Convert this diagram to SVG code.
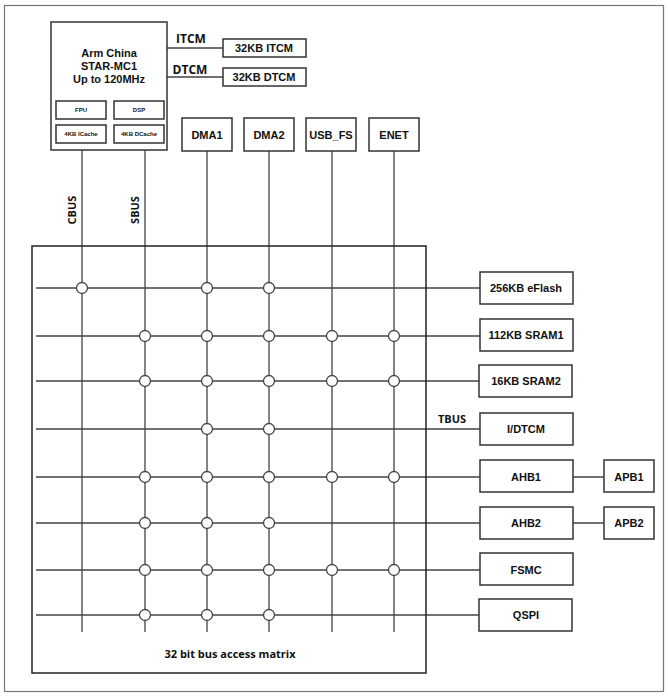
<svg xmlns="http://www.w3.org/2000/svg" width="668" height="697" viewBox="0 0 668 697">
<style>
.b{fill:#fff;stroke:#333;stroke-width:1.5}
.l{stroke:#444;stroke-width:1.3;fill:none}
.c{fill:#fff;stroke:#444;stroke-width:1.3}
text{font-family:"Liberation Sans",Arial,sans-serif;font-weight:bold;fill:#111;text-anchor:middle}
.t{font-size:11px}
.s{font-size:6px}
.m{font-size:12px}
</style>
<rect x="4.5" y="5.5" width="659" height="686" fill="#fff" stroke="#777" stroke-width="1.2"/>
<g id="connectors">
<path class="l" d="M167 48H223M167 77H223"/>
<path class="l" d="M82 150V632M145 150V632M207 151V632M269 151V632M332 151V632M394 151V632"/>
<path class="l" d="M36 288H480M36 336H480M36 381H480M36 429H480M36 477H480M36 523H480M36 570H480M36 615H480"/>
<path class="l" d="M573 477H604M573 523H604"/>
</g>
<g id="matrix"><rect x="32" y="246" width="394" height="427" fill="none" stroke="#222" stroke-width="1.5"/>
<text x="230" y="658" font-family="'Open Sans',sans-serif" style="font-family:'Open Sans',sans-serif" font-size="11">32 bit bus access matrix</text></g>
<g id="cpu"><rect class="b" x="51" y="22" width="116" height="128"/>
<text class="t" x="109" y="57">Arm China</text><text class="t" x="109" y="70">STAR-MC1</text><text class="t" x="109" y="83">Up to 120MHz</text>
<rect class="b" x="56" y="101" width="50" height="18"/><text class="s" x="81" y="112">FPU</text>
<rect class="b" x="114" y="101" width="50" height="18"/><text class="s" x="139" y="112">DSP</text>
<rect class="b" x="56" y="125" width="50" height="18"/><text class="s" x="81" y="136">4KB ICache</text>
<rect class="b" x="114" y="125" width="50" height="18"/><text class="s" x="139" y="136">4KB DCache</text></g>
<g id="labels" style="font-family:'Open Sans',sans-serif">
<text x="191" y="43" font-size="12" style="font-family:'Open Sans',sans-serif">ITCM</text>
<text x="190" y="74" font-size="12" style="font-family:'Open Sans',sans-serif">DTCM</text>
<text x="0" y="0" font-size="11" transform="translate(76,210) rotate(-90)" style="font-family:'Open Sans',sans-serif">CBUS</text>
<text x="0" y="0" font-size="11" transform="translate(139,210) rotate(-90)" style="font-family:'Open Sans',sans-serif">SBUS</text>
<text x="452" y="423" font-size="11" style="font-family:'Open Sans',sans-serif">TBUS</text>
</g>
<g id="itcm"><rect class="b" x="223" y="39" width="83" height="18"/><text class="t" x="264" y="52">32KB ITCM</text></g>
<g id="dtcm"><rect class="b" x="223" y="68" width="83" height="18"/><text class="t" x="264" y="81">32KB DTCM</text></g>
<g id="dma1"><rect class="b" x="182" y="118" width="50" height="33"/><text class="t" x="207" y="139">DMA1</text></g>
<g id="dma2"><rect class="b" x="244" y="118" width="50" height="33"/><text class="t" x="269" y="139">DMA2</text></g>
<g id="usb"><rect class="b" x="306" y="118" width="50" height="33"/><text class="t" x="331" y="139">USB_FS</text></g>
<g id="enet"><rect class="b" x="369" y="118" width="50" height="33"/><text class="t" x="394" y="139">ENET</text></g>
<g id="eflash"><rect class="b" x="480" y="272" width="93" height="32"/><text class="t" x="526" y="292">256KB eFlash</text></g>
<g id="sram1"><rect class="b" x="480" y="319" width="93" height="32"/><text class="t" x="526" y="339">112KB SRAM1</text></g>
<g id="sram2"><rect class="b" x="479" y="365" width="93" height="32"/><text class="t" x="526" y="385">16KB SRAM2</text></g>
<g id="idtcm"><rect class="b" x="480" y="413" width="93" height="32"/><text class="t" x="526" y="433">I/DTCM</text></g>
<g id="ahb1"><rect class="b" x="480" y="460" width="93" height="32"/><text class="t" x="526" y="481">AHB1</text></g>
<g id="ahb2"><rect class="b" x="480" y="507" width="93" height="32"/><text class="t" x="526" y="527">AHB2</text></g>
<g id="fsmc"><rect class="b" x="480" y="553" width="93" height="32"/><text class="t" x="526" y="574">FSMC</text></g>
<g id="qspi"><rect class="b" x="479" y="599" width="93" height="32"/><text class="t" x="526" y="619">QSPI</text></g>
<g id="apb1"><rect class="b" x="604" y="460" width="50" height="32"/><text class="t" x="629" y="481">APB1</text></g>
<g id="apb2"><rect class="b" x="604" y="507" width="50" height="32"/><text class="t" x="629" y="527">APB2</text></g>
<g id="switches">
<circle class="c" cx="82" cy="288" r="5.5"/><circle class="c" cx="207" cy="288" r="5.5"/><circle class="c" cx="269" cy="288" r="5.5"/>
<circle class="c" cx="145" cy="336" r="5.5"/><circle class="c" cx="207" cy="336" r="5.5"/><circle class="c" cx="269" cy="336" r="5.5"/><circle class="c" cx="332" cy="336" r="5.5"/><circle class="c" cx="394" cy="336" r="5.5"/>
<circle class="c" cx="145" cy="381" r="5.5"/><circle class="c" cx="207" cy="381" r="5.5"/><circle class="c" cx="269" cy="381" r="5.5"/><circle class="c" cx="332" cy="381" r="5.5"/><circle class="c" cx="394" cy="381" r="5.5"/>
<circle class="c" cx="207" cy="429" r="5.5"/><circle class="c" cx="269" cy="429" r="5.5"/>
<circle class="c" cx="145" cy="477" r="5.5"/><circle class="c" cx="207" cy="477" r="5.5"/><circle class="c" cx="269" cy="477" r="5.5"/><circle class="c" cx="332" cy="477" r="5.5"/><circle class="c" cx="394" cy="477" r="5.5"/>
<circle class="c" cx="145" cy="523" r="5.5"/><circle class="c" cx="207" cy="523" r="5.5"/><circle class="c" cx="269" cy="523" r="5.5"/>
<circle class="c" cx="145" cy="570" r="5.5"/><circle class="c" cx="207" cy="570" r="5.5"/><circle class="c" cx="269" cy="570" r="5.5"/><circle class="c" cx="332" cy="570" r="5.5"/><circle class="c" cx="394" cy="570" r="5.5"/>
<circle class="c" cx="145" cy="615" r="5.5"/><circle class="c" cx="207" cy="615" r="5.5"/><circle class="c" cx="269" cy="615" r="5.5"/>
</g>
</svg>
